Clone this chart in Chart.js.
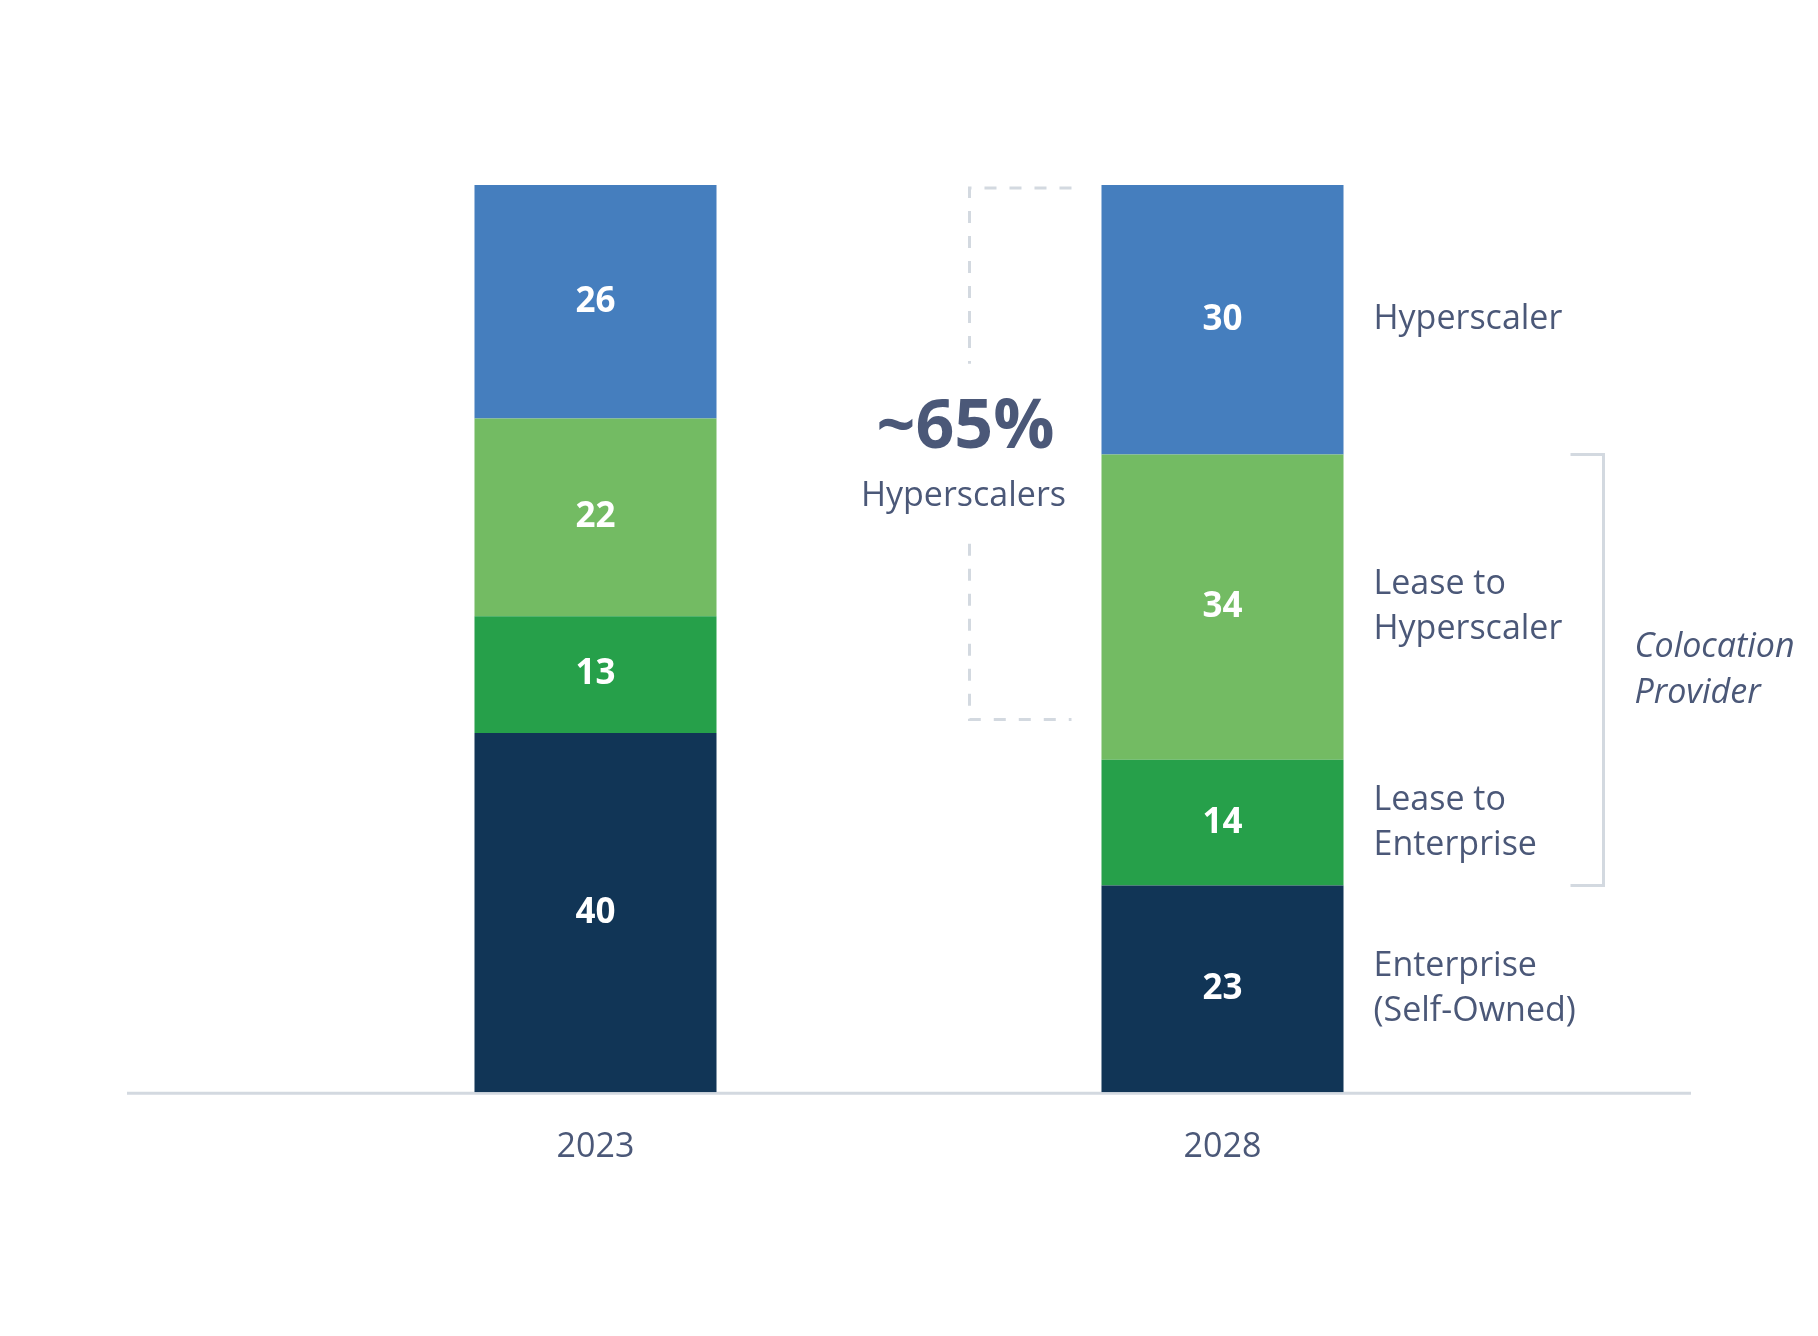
<!DOCTYPE html>
<html>
<head>
<meta charset="utf-8">
<script src="https://cdn.jsdelivr.net/npm/chart.js@4"></script>
<style>
  html, body { margin: 0; padding: 0; background: #fff; }
  #wrap { width: 1818px; height: 1336px; }
</style>
</head>
<body>
<div id="wrap"><canvas id="myChart" width="1818" height="1336"></canvas></div>
<script>
// categories and series (bottom of the stack first)
const years = ['2023', '2028'];
const enterpriseSelf = [40, 23];
const leaseEnterprise = [13, 14];
const leaseHyperscaler = [22, 34];
const hyperscaler = [26, 30];

// side labels next to the 2028 bar, one per series
const sideLabels = [
    ['Enterprise', '(Self-Owned)'],
    ['Lease to', 'Enterprise'],
    ['Lease to', 'Hyperscaler'],
    ['Hyperscaler']
];
const bracketLabel = ['Colocation', 'Provider'];
const shareBig = '~65%';
const shareSmall = 'Hyperscalers';
const shareTop = 101;
const shareBottom = 41.5;

const textColor = '#4b5878';
const lineGrey = '#d3d9e0';

// baseline wider than the plot area
const baseline = {
    id: 'baseline',
    beforeDatasetsDraw(chart) {
        const {ctx, chartArea} = chart;
        ctx.save();
        ctx.strokeStyle = lineGrey;
        ctx.lineWidth = 3;
        ctx.beginPath();
        ctx.moveTo(chartArea.left - 155, chartArea.bottom + 1);
        ctx.lineTo(chartArea.right + 155, chartArea.bottom + 1);
        ctx.stroke();
        ctx.restore();
    }
};

// white values in the middle of each segment
const segmentLabels = {
    id: 'segmentLabels',
    afterDatasetsDraw(chart) {
        const {ctx} = chart;
        ctx.save();
        ctx.font = 'bold 35px "Open Sans"';
        ctx.fillStyle = '#ffffff';
        ctx.textAlign = 'center';
        ctx.textBaseline = 'middle';
        chart.data.datasets.forEach((ds, i) => {
            chart.getDatasetMeta(i).data.forEach((bar, j) => {
                ctx.fillText(ds.data[j], bar.x, (bar.y + bar.base) / 2);
            });
        });
        ctx.restore();
    }
};

// annotations: side labels, colocation bracket, dashed ~65% bracket
const annotations = {
    id: 'annotations',
    afterDraw(chart) {
        const {ctx} = chart;
        const yScale = chart.scales.y;
        const last = years.length - 1;
        const bars = chart.data.datasets.map((ds, i) => chart.getDatasetMeta(i).data[last]);
        const right = bars[0].x + bars[0].width / 2;
        const left = bars[0].x - bars[0].width / 2;
        const lh = 45;

        ctx.save();
        ctx.fillStyle = textColor;
        ctx.textBaseline = 'middle';
        ctx.textAlign = 'left';
        ctx.font = '34px "Open Sans"';
        bars.forEach((bar, i) => {
            const lines = sideLabels[i];
            const mid = (bar.y + bar.base) / 2;
            lines.forEach((t, k) => {
                ctx.fillText(t, right + 30, mid + (k - (lines.length - 1) / 2) * lh);
            });
        });

        // colocation bracket over lease segments
        const bTop = bars[2].y;
        const bBot = bars[1].base;
        ctx.strokeStyle = lineGrey;
        ctx.lineWidth = 3;
        ctx.beginPath();
        ctx.moveTo(right + 227, bTop);
        ctx.lineTo(right + 260, bTop);
        ctx.lineTo(right + 260, bBot);
        ctx.lineTo(right + 227, bBot);
        ctx.stroke();

        ctx.font = 'italic 34px "Open Sans"';
        const bMid = (bTop + bBot) / 2;
        bracketLabel.forEach((t, k) => {
            ctx.fillText(t, right + 291, bMid + (k - 0.5) * 46);
        });

        // dashed bracket with share text
        const vx = left - 132;
        const hx = left - 30;
        const top = yScale.getPixelForValue(shareTop) + 3;
        const bot = yScale.getPixelForValue(shareBottom);
        const mid = (top + bot) / 2;
        ctx.setLineDash([12, 13]);
        ctx.beginPath();
        ctx.moveTo(hx, top);
        ctx.lineTo(vx, top);
        ctx.lineTo(vx, mid - 90);
        ctx.moveTo(vx, mid + 90);
        ctx.lineTo(vx, bot);
        ctx.lineTo(hx, bot);
        ctx.stroke();
        ctx.setLineDash([]);

        ctx.textAlign = 'center';
        ctx.font = 'bold 68px "Open Sans"';
        ctx.fillText(shareBig, vx - 4, mid - 25);
        ctx.font = '34px "Open Sans"';
        ctx.fillText(shareSmall, vx - 6, mid + 43);
        ctx.restore();
    }
};

const ctx = document.getElementById('myChart').getContext('2d');

const myChart = new Chart(ctx, {
    type: 'bar',
    data: {
        labels: years,
        datasets: [
            { label: 'Enterprise (Self-Owned)', data: enterpriseSelf, backgroundColor: '#113556' },
            { label: 'Lease to Enterprise', data: leaseEnterprise, backgroundColor: '#26a04a' },
            { label: 'Lease to Hyperscaler', data: leaseHyperscaler, backgroundColor: '#73bb63' },
            { label: 'Hyperscaler', data: hyperscaler, backgroundColor: '#457ebe' }
        ]
    },
    options: {
        responsive: false,
        animation: false,
        categoryPercentage: 1,
        barPercentage: 0.386,
        layout: {
            padding: { left: 282, right: 282, top: 185, bottom: 141 }
        },
        plugins: {
            legend: { display: false },
            tooltip: { enabled: false }
        },
        scales: {
            x: {
                stacked: true,
                grid: { display: false },
                border: { display: false },
                ticks: {
                    padding: 27,
                    color: textColor,
                    font: { family: 'Open Sans', size: 34 }
                }
            },
            y: {
                stacked: true,
                display: false,
                min: 0,
                max: 101
            }
        }
    },
    plugins: [baseline, segmentLabels, annotations]
});
</script>
</body>
</html>
